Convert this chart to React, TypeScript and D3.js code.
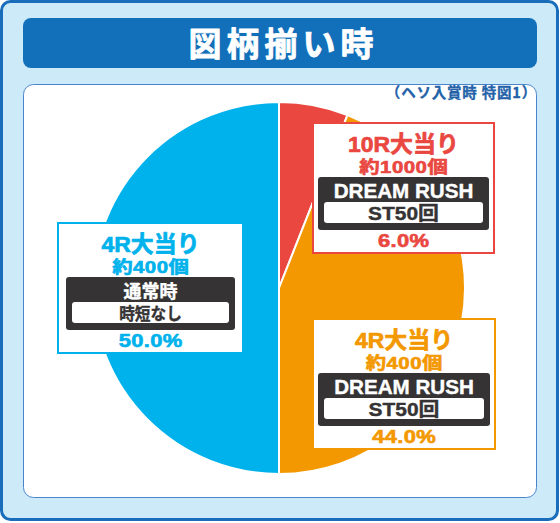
import React from "react";
import * as d3 from "d3";

// ---- data ----
const categories = ["10R大当り", "4R大当り", "4R大当り"];
const payouts = ["約1000個", "約400個", "約400個"];
const modes = ["DREAM RUSH", "DREAM RUSH", "通常時"];
const subModes = ["ST50回", "ST50回", "時短なし"];
const shares = [6.0, 44.0, 50.0];
const sliceColors = ["#e9473f", "#f39800", "#00b2ec"];
const title = "図柄揃い時";
const subtitle = "（ヘソ入賞時 特図1）";

// ---- layout (label boxes, positions only) ----
const boxLayout = [
  { x: 313, y: 123, w: 181, inset: 5 },
  { x: 313, y: 319, w: 182, inset: 5 },
  { x: 58, y: 223, w: 185, inset: 8 },
];

const FONT = "'Liberation Sans', 'Noto Sans CJK JP', sans-serif";
const CJK = "'Noto Sans CJK JP', sans-serif";

const W = 560;
const H = 523;
const cx = 279;
const cy = 288;
const R = 186;

function CText({ x, y, size, fill, ls = 0, sx = 1, bold = 0.5, children, family = FONT }: any) {
  return (
    <g transform={`translate(${x},${y}) scale(${sx},1)`}>
      <text
        x={ls / 2}
        y={0}
        textAnchor="middle"
        fontFamily={family}
        fontWeight="bold"
        fontSize={size}
        letterSpacing={ls}
        fill={fill}
        stroke={fill}
        strokeWidth={bold}
        strokeLinejoin="round"
      >
        {children}
      </text>
    </g>
  );
}

export default function App() {
  const pie = d3
    .pie<number>()
    .sort(null)
    .value((d) => d)
    .startAngle(0)
    .endAngle(2 * Math.PI);
  const arcs = pie(shares);
  const arc = d3.arc<d3.PieArcDatum<number>>().innerRadius(0).outerRadius(R);
  const pct = d3.format(".1f");

  return (
    <svg
      width={W}
      height={H}
      viewBox={`0 0 ${W} ${H}`}
      style={{ position: "absolute", left: 0, top: 0, display: "block" }}
    >
      {/* outer frame */}
      <rect x={1.5} y={1.5} width={556} height={518} rx={9} fill="#cdeaf8" stroke="#1a6dbb" strokeWidth={3} />
      {/* title bar */}
      <rect x={23} y={18} width={514} height={50} rx={8} fill="#126fba" />
      <CText x={281} y={56} size={33} fill="#ffffff" ls={5} bold={0.8} family={CJK}>
        {title}
      </CText>
      {/* inner panel */}
      <rect x={23.5} y={84.5} width={513} height={413} rx={10} fill="#ffffff" stroke="#4a85cc" strokeWidth={1} />
      <text
        x={537}
        y={98}
        textAnchor="end"
        fontFamily={CJK}
        fontWeight="bold"
        fontSize={14.5}
        letterSpacing={0.8}
        fill="#2362a8"
        stroke="#2362a8"
        strokeWidth={0.3}
      >
        {subtitle}
      </text>

      {/* pie */}
      <g transform={`translate(${cx},${cy})`}>
        {arcs.map((a, i) => (
          <path key={i} d={arc(a) || ""} fill={sliceColors[i]} stroke="#ffffff" strokeWidth={2} strokeLinejoin="miter" />
        ))}
      </g>

      {/* label boxes */}
      {boxLayout.map((b, i) => {
        const col = sliceColors[i];
        const mid = b.x + b.w / 2;
        const dx = b.x + b.inset;
        const dw = b.w - 2 * b.inset;
        const latinMode = /^[A-Z ]+$/.test(modes[i]);
        return (
          <g key={i}>
            <rect x={b.x} y={b.y} width={b.w} height={130} fill="#ffffff" stroke={col} strokeWidth={2} />
            <CText x={mid} y={b.y + 29} size={22.5} fill={col} sx={1.02} bold={0.7}>
              {categories[i]}
            </CText>
            <CText x={mid} y={b.y + 50} size={17} fill={col} sx={1.2} ls={0.4} bold={0.6}>
              {payouts[i]}
            </CText>
            <rect x={dx} y={b.y + 54} width={dw} height={53} rx={3} fill="#353333" />
            <CText x={mid} y={b.y + 75} size={latinMode ? 20 : 18} fill="#ffffff" sx={latinMode ? 1.03 : 1} bold={0.4}>
              {modes[i]}
            </CText>
            <rect x={dx + 6} y={b.y + 79} width={dw - 12} height={21} rx={3} fill="#ffffff" />
            <CText x={mid} y={b.y + 97} size={latinMode ? 19 : 16.5} fill="#353333" sx={latinMode ? 1.1 : 0.95} bold={0.4}>
              {subModes[i]}
            </CText>
            <CText x={mid} y={b.y + 124} size={18} fill={col} sx={1.22} ls={0.3} bold={0.6}>
              {pct(shares[i]) + "%"}
            </CText>
          </g>
        );
      })}
    </svg>
  );
}
